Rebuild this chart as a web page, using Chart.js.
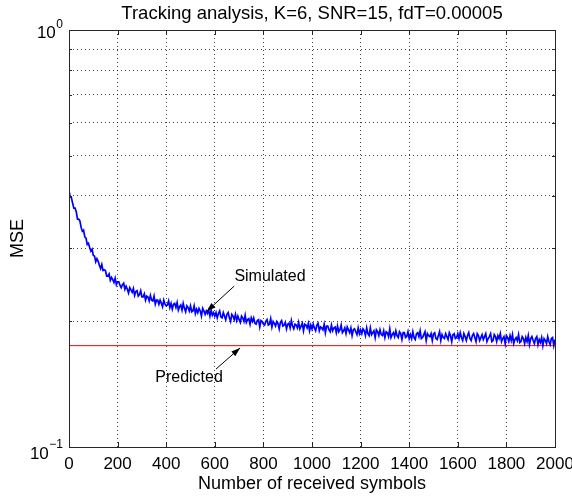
<!DOCTYPE html>
<html>
<head>
<meta charset="utf-8">
<script src="https://cdn.jsdelivr.net/npm/chart.js@4.4.1/dist/chart.umd.min.js"></script>
<style>
  html, body { margin: 0; padding: 0; background: #fff; }
  #wrap { width: 572px; height: 497px; position: relative; }
</style>
</head>
<body>
<div id="wrap"><canvas id="c" width="572" height="497"></canvas></div>
<script>
// ---------- data ----------
const titleText = 'Tracking analysis, K=6, SNR=15, fdT=0.00005';
const xLabel = 'Number of received symbols';
const yLabel = 'MSE';
const symbolStep = 5;               // spacing of samples along x (symbols)
const xMin = 0, xMax = 2000, xTickStep = 200;
const yMin = 0.1, yMax = 1;
const yGridValues = [0.1, 0.2, 0.3, 0.4, 0.5, 0.6, 0.7, 0.8, 0.9, 1];
const yMajorTicks = [0.1, 1];
const yMajorLabels = [['10', '\u22121'], ['10', '0']];
const simulatedMSE = [
  // 0 - 100
  0.412, 0.398, 0.396, 0.384, 0.374, 0.374, 0.366, 0.352, 0.352, 0.348, 0.336, 0.329, 0.331, 0.319, 0.317, 0.306, 0.308, 0.301, 0.295, 0.298, 0.288,
  // 105 - 200
  0.287, 0.278, 0.283, 0.279, 0.273, 0.268, 0.274, 0.265, 0.266, 0.265, 0.257, 0.257, 0.260, 0.251, 0.255, 0.252, 0.248, 0.254, 0.245, 0.249,
  // 205 - 400
  0.249, 0.244, 0.241, 0.245, 0.247, 0.239, 0.243, 0.239, 0.234, 0.241, 0.238, 0.235, 0.240, 0.231, 0.236, 0.237, 0.230, 0.232, 0.237, 0.229,
  0.229, 0.233, 0.225, 0.230, 0.229, 0.224, 0.231, 0.225, 0.224, 0.230, 0.220, 0.225, 0.225, 0.220, 0.225, 0.221, 0.217, 0.225, 0.220, 0.218,
  // 405 - 600
  0.219, 0.224, 0.216, 0.221, 0.214, 0.220, 0.221, 0.216, 0.222, 0.213, 0.217, 0.219, 0.213, 0.221, 0.215, 0.211, 0.218, 0.216, 0.212, 0.218,
  0.211, 0.212, 0.218, 0.209, 0.214, 0.210, 0.215, 0.212, 0.206, 0.215, 0.212, 0.208, 0.212, 0.209, 0.213, 0.206, 0.213, 0.207, 0.210, 0.206,
  // 605 - 800
  0.210, 0.204, 0.209, 0.212, 0.205, 0.204, 0.210, 0.206, 0.202, 0.208, 0.210, 0.204, 0.200, 0.208, 0.206, 0.202, 0.208, 0.201, 0.206, 0.202,
  0.199, 0.206, 0.204, 0.200, 0.207, 0.199, 0.202, 0.203, 0.197, 0.204, 0.200, 0.204, 0.198, 0.197, 0.201, 0.202, 0.194, 0.201, 0.200, 0.197,
  // 805 - 1000
  0.196, 0.200, 0.202, 0.196, 0.197, 0.203, 0.194, 0.200, 0.198, 0.195, 0.200, 0.198, 0.192, 0.199, 0.201, 0.195, 0.196, 0.199, 0.192, 0.197,
  0.198, 0.193, 0.201, 0.195, 0.192, 0.197, 0.196, 0.193, 0.199, 0.192, 0.195, 0.198, 0.190, 0.197, 0.196, 0.193, 0.198, 0.190, 0.196, 0.192,
  // 1005 - 1200
  0.197, 0.193, 0.190, 0.196, 0.198, 0.190, 0.194, 0.193, 0.191, 0.197, 0.188, 0.195, 0.195, 0.191, 0.189, 0.196, 0.190, 0.193, 0.194, 0.188,
  0.195, 0.189, 0.191, 0.196, 0.188, 0.190, 0.193, 0.187, 0.194, 0.191, 0.188, 0.193, 0.185, 0.191, 0.192, 0.189, 0.186, 0.193, 0.187, 0.191,
  // 1205 - 1400
  0.187, 0.192, 0.190, 0.185, 0.193, 0.187, 0.185, 0.193, 0.186, 0.188, 0.190, 0.183, 0.191, 0.189, 0.185, 0.191, 0.186, 0.185, 0.190, 0.183,
  0.189, 0.188, 0.184, 0.192, 0.183, 0.186, 0.188, 0.184, 0.190, 0.185, 0.183, 0.189, 0.187, 0.181, 0.188, 0.188, 0.183, 0.184, 0.189, 0.182,
  // 1405 - 1600
  0.186, 0.182, 0.189, 0.183, 0.181, 0.187, 0.188, 0.184, 0.190, 0.182, 0.183, 0.186, 0.189, 0.180, 0.187, 0.185, 0.184, 0.187, 0.180, 0.187,
  0.188, 0.182, 0.181, 0.185, 0.189, 0.180, 0.186, 0.183, 0.182, 0.187, 0.184, 0.181, 0.188, 0.185, 0.179, 0.186, 0.187, 0.182, 0.183, 0.187,
  // 1605 - 1800
  0.182, 0.188, 0.183, 0.180, 0.187, 0.184, 0.180, 0.185, 0.188, 0.182, 0.180, 0.185, 0.187, 0.183, 0.179, 0.187, 0.185, 0.180, 0.183, 0.186,
  0.181, 0.184, 0.187, 0.179, 0.182, 0.184, 0.187, 0.179, 0.180, 0.186, 0.184, 0.179, 0.185, 0.182, 0.187, 0.179, 0.182, 0.184, 0.177, 0.185,
  // 1805 - 2000
  0.183, 0.179, 0.185, 0.180, 0.186, 0.177, 0.181, 0.183, 0.180, 0.186, 0.178, 0.179, 0.184, 0.182, 0.177, 0.183, 0.179, 0.185, 0.176, 0.182,
  0.184, 0.180, 0.177, 0.182, 0.184, 0.176, 0.181, 0.178, 0.183, 0.175, 0.182, 0.180, 0.177, 0.184, 0.179, 0.176, 0.182, 0.183, 0.175, 0.181
];
const predictedMSE = 0.175;
const predictedX = [0, 2000];

// annotations (anchored in data coordinates)
const annotations = [
  { text: 'Simulated', textAt: [827, 0.2557], from: [680, 0.2432], to: [567, 0.2115] },
  { text: 'Predicted', textAt: [494, 0.1463], from: [605, 0.1538], to: [704, 0.1728] }
];

// ---------- build ----------
const simPoints = simulatedMSE.map((v, i) => ({ x: i * symbolStep, y: v }));
const predPoints = predictedX.map(x => ({ x: x, y: predictedMSE }));

const FONT = "'Liberation Sans', Arial, Helvetica, sans-serif";
// vertical offsets for the exponent-style y labels [base baseline, exponent baseline]
const yLabelOffsets = [[12, 1], [8, -2]];

const matlabPlugin = {
  id: 'matlab',
  afterDraw(chart) {
    const { ctx, chartArea: a, scales } = chart;
    const xs = scales.x, ys = scales.y;
    ctx.save();
    // title
    ctx.fillStyle = '#000';
    ctx.font = '18.5px ' + FONT;
    ctx.textAlign = 'center';
    ctx.textBaseline = 'alphabetic';
    ctx.fillText(titleText, (a.left + a.right) / 2, 19);
    // frame
    ctx.strokeStyle = '#262626';
    ctx.lineWidth = 1;
    ctx.strokeRect(Math.round(a.left) + 0.5, Math.round(a.top) + 0.5,
                   Math.round(a.right - a.left), Math.round(a.bottom - a.top));
    // inward tick marks
    ctx.beginPath();
    for (let v = xMin; v <= xMax; v += xTickStep) {
      const px = Math.round(xs.getPixelForValue(v)) + 0.5;
      ctx.moveTo(px, a.bottom); ctx.lineTo(px, a.bottom - 5);
      ctx.moveTo(px, a.top); ctx.lineTo(px, a.top + 5);
    }
    ys.ticks.forEach(t => {
      const py = Math.round(ys.getPixelForValue(t.value)) + 0.5;
      const len = yMajorTicks.includes(t.value) ? 5 : 3;
      ctx.moveTo(a.left, py); ctx.lineTo(a.left + len, py);
      ctx.moveTo(a.right, py); ctx.lineTo(a.right - len, py);
    });
    ctx.stroke();
    // y tick labels with exponents
    yMajorTicks.forEach((v, i) => {
      const py = ys.getPixelForValue(v);
      const [base, exp] = yMajorLabels[i];
      const [ob, oe] = yLabelOffsets[i];
      ctx.textAlign = 'left';
      ctx.textBaseline = 'alphabetic';
      ctx.font = '12px ' + FONT;
      const ew = ctx.measureText(exp).width;
      const right = a.left - 6;
      ctx.fillText(exp, right - ew, py + oe);
      ctx.font = '17px ' + FONT;
      const bw = ctx.measureText(base).width;
      ctx.fillText(base, right - ew - bw - 0.5, py + ob);
    });
    // annotations
    ctx.font = '16px ' + FONT;
    ctx.textAlign = 'center';
    ctx.textBaseline = 'middle';
    ctx.strokeStyle = '#000';
    ctx.lineWidth = 1;
    annotations.forEach(an => {
      const tx = xs.getPixelForValue(an.textAt[0]), ty = ys.getPixelForValue(an.textAt[1]);
      ctx.fillText(an.text, tx, ty);
      const x0 = xs.getPixelForValue(an.from[0]), y0 = ys.getPixelForValue(an.from[1]);
      const x1 = xs.getPixelForValue(an.to[0]), y1 = ys.getPixelForValue(an.to[1]);
      ctx.beginPath(); ctx.moveTo(x0, y0); ctx.lineTo(x1, y1); ctx.stroke();
      const ang = Math.atan2(y1 - y0, x1 - x0);
      const L = 9, W = 3;
      ctx.beginPath();
      ctx.moveTo(x1, y1);
      ctx.lineTo(x1 - L * Math.cos(ang) + W * Math.sin(ang), y1 - L * Math.sin(ang) - W * Math.cos(ang));
      ctx.lineTo(x1 - L * Math.cos(ang) - W * Math.sin(ang), y1 - L * Math.sin(ang) + W * Math.cos(ang));
      ctx.closePath();
      ctx.fill();
    });
    ctx.restore();
  }
};

new Chart(document.getElementById('c'), {
  type: 'line',
  data: {
    datasets: [
      { label: 'Simulated', data: simPoints, borderColor: '#0000ff', borderWidth: 1.7,
        pointRadius: 0, tension: 0, fill: false, order: 1 },
      { label: 'Predicted', data: predPoints, borderColor: '#ff0000', borderWidth: 1,
        pointRadius: 0, tension: 0, fill: false, order: 2 }
    ]
  },
  options: {
    responsive: false,
    animation: false,
    devicePixelRatio: 1,
    layout: { padding: { left: 0, right: 17, top: 30, bottom: 0 } },
    plugins: {
      legend: { display: false },
      tooltip: { enabled: false },
      title: { display: false }
    },
    scales: {
      x: {
        type: 'linear', min: xMin, max: xMax,
        afterFit: s => { s.height = 50; s.paddingRight = 0; s.paddingLeft = 0; },
        ticks: { stepSize: xTickStep, color: '#000', padding: 7,
                 font: { family: FONT, size: 17 }, maxRotation: 0, autoSkip: false,
                 callback: v => String(v) },
        grid: { color: 'rgba(0,0,0,0.75)', drawTicks: false, lineWidth: 1 },
        border: { display: false, dash: [1, 3] },
        title: { display: true, text: xLabel, color: '#000',
                 font: { family: FONT, size: 18 }, padding: { top: 0, bottom: 2 } }
      },
      y: {
        type: 'logarithmic', min: yMin, max: yMax,
        afterBuildTicks: s => { s.ticks = yGridValues.map(v => ({ value: v })); },
        afterFit: s => { s.width = 69; s.paddingTop = 0; s.paddingBottom = 0; },
        ticks: { display: false },
        grid: { color: 'rgba(0,0,0,0.75)', drawTicks: false, lineWidth: 1 },
        border: { display: false, dash: [1, 3] },
        title: { display: true, text: yLabel, color: '#000',
                 font: { family: FONT, size: 18 }, padding: { top: 7, bottom: 0 } }
      }
    }
  },
  plugins: [matlabPlugin]
});
</script>
</body>
</html>
